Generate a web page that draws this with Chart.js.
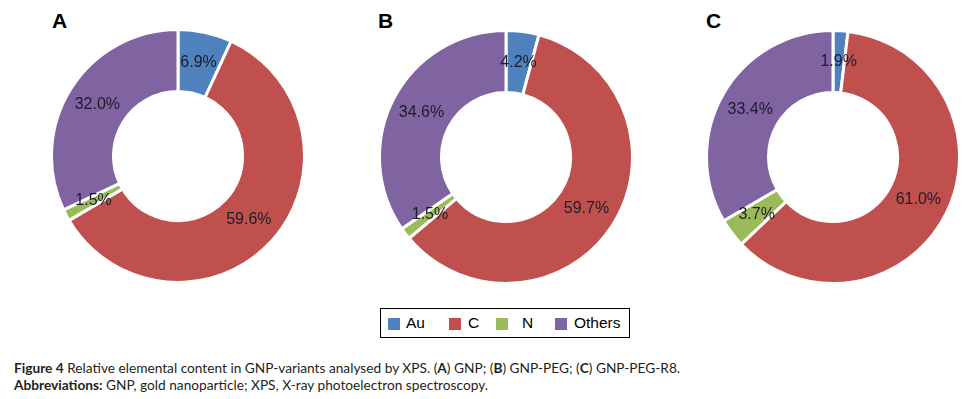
<!DOCTYPE html>
<html>
<head>
<meta charset="utf-8">
<script src="https://cdn.jsdelivr.net/npm/chart.js@4/dist/chart.umd.min.js"></script>
<style>
  html, body { margin:0; padding:0; background:#fff; }
  body { width:974px; height:399px; position:relative; overflow:hidden; font-family:"Liberation Sans", Arial, sans-serif; }
  .panel { position:absolute; width:256px; height:256px; }
  .letter { position:absolute; font:bold 21px "Liberation Sans", Arial, sans-serif; color:#000; line-height:1; }
  #legend { position:absolute; left:380px; top:308px; width:248px; height:28px; border:1px solid #000; box-sizing:content-box;
            font:15.5px "Liberation Sans", Arial, sans-serif; color:#000; }
  #legend .sw { position:absolute; top:9px; width:12px; height:12px; }
  #legend .tx { position:absolute; top:5px; line-height:18px; }
  .cap { position:absolute; left:14px; font-family:"Lato","Open Sans",sans-serif; font-size:13.7px; color:#231f20; white-space:nowrap; }
  .cap b { font-weight:bold; }
</style>
</head>
<body>
<div class="letter" style="left:52px;top:10px">A</div>
<div class="letter" style="left:378px;top:10px">B</div>
<div class="letter" style="left:706px;top:10px">C</div>
<div class="panel" style="left:50px;top:28px"><canvas id="cA"></canvas></div>
<div class="panel" style="left:378px;top:29px"><canvas id="cB"></canvas></div>
<div class="panel" style="left:705px;top:29px"><canvas id="cC"></canvas></div>
<div id="legend"></div>
<div class="cap" style="top:359px"><b>Figure 4</b> Relative elemental content in GNP-variants analysed by XPS. (<b>A</b>) GNP; (<b>B</b>) GNP-PEG; (<b>C</b>) GNP-PEG-R8.</div>
<div class="cap" style="top:376px"><b>Abbreviations:</b> GNP, gold nanoparticle; XPS, X-ray photoelectron spectroscopy.</div>
<script>
const categories = ["Au", "C", "N", "Others"];
const colors = ["#4f81bd", "#c0504d", "#9bbb59", "#8064a2"];
const valuesA = [6.9, 59.6, 1.5, 32.0];
const valuesB = [4.2, 59.7, 1.5, 34.6];
const valuesC = [1.9, 61.0, 3.7, 33.4];

const labelPlugin = {
  id: 'sliceLabels',
  afterDatasetsDraw(chart) {
    const ctx = chart.ctx;
    const meta = chart.getDatasetMeta(0);
    const data = chart.data.datasets[0].data;
    ctx.save();
    ctx.font = '16px "Liberation Sans", Arial, sans-serif';
    ctx.fillStyle = '#1c1c2a';
    ctx.textAlign = 'center';
    ctx.textBaseline = 'middle';
    meta.data.forEach((arc, i) => {
      const p = arc.getCenterPoint();
      ctx.fillText(data[i].toFixed(1) + '%', p.x, p.y);
    });
    ctx.restore();
  }
};

function makeChart(id, values) {
  new Chart(document.getElementById(id), {
    type: 'doughnut',
    data: {
      labels: categories,
      datasets: [{ data: values, backgroundColor: colors, borderColor: '#ffffff', borderWidth: 3 }]
    },
    options: {
      responsive: true,
      maintainAspectRatio: false,
      animation: false,
      cutout: '51%',
      layout: { padding: 0 },
      plugins: { legend: { display: false }, tooltip: { enabled: false } }
    },
    plugins: [labelPlugin]
  });
}
makeChart('cA', valuesA);
makeChart('cB', valuesB);
makeChart('cC', valuesC);

// legend layout (offsets inside the bordered box)
const lg = document.getElementById('legend');
const swLeft = [7, 68, 115, 174];
const txLeft = [25, 87, 141, 193];
categories.forEach((c, i) => {
  const sw = document.createElement('span');
  sw.className = 'sw';
  sw.style.left = swLeft[i] + 'px';
  sw.style.background = colors[i];
  const t = document.createElement('span');
  t.className = 'tx';
  t.style.left = txLeft[i] + 'px';
  t.textContent = c;
  lg.appendChild(sw); lg.appendChild(t);
});
</script>
</body>
</html>
